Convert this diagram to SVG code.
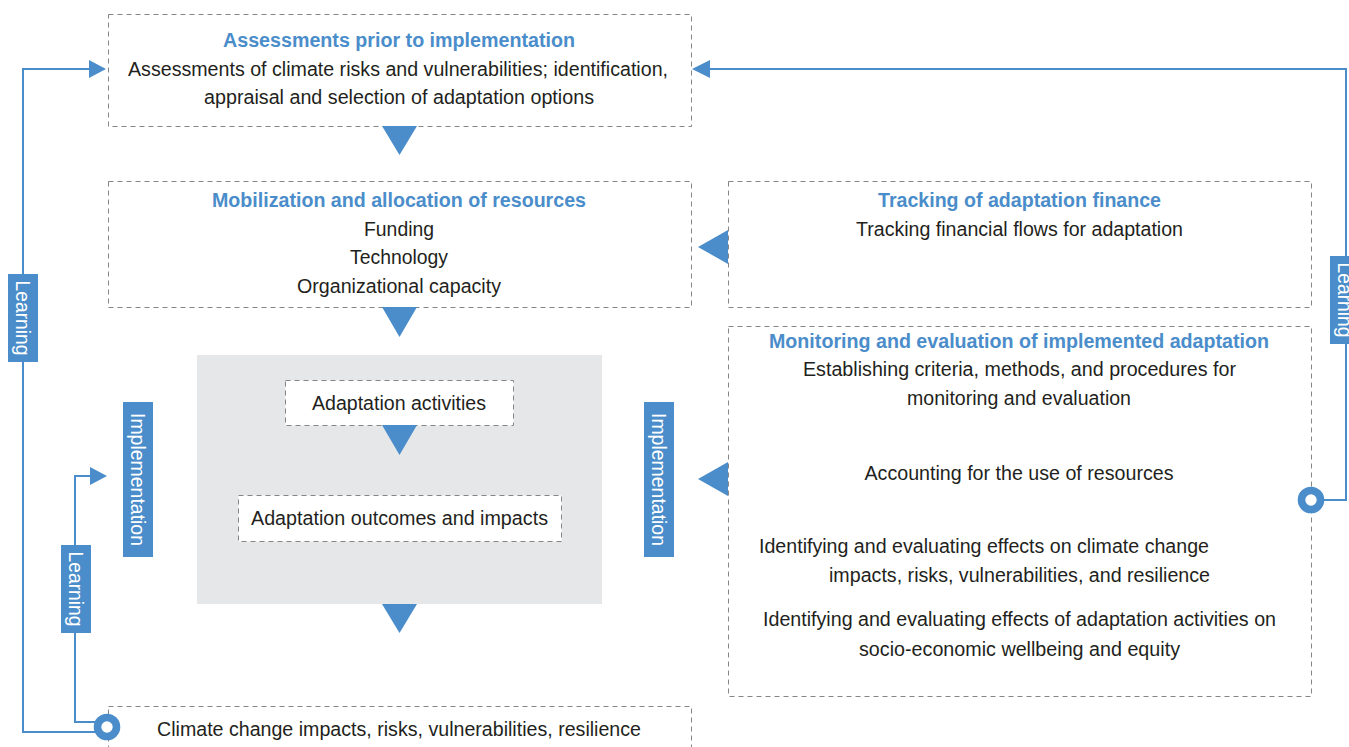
<svg xmlns="http://www.w3.org/2000/svg" width="1349" height="747" viewBox="0 0 1349 747">
<style>
.box{fill:#fff;stroke:#858585;stroke-width:1;stroke-dasharray:5 4}
.t{font-family:"Liberation Sans",Arial,sans-serif;font-size:20px;fill:#231f20;text-anchor:middle}
.h{font-family:"Liberation Sans",Arial,sans-serif;font-size:20px;font-weight:bold;fill:#4a8dca;text-anchor:middle}
.s{font-family:"Liberation Sans",Arial,sans-serif;font-size:20px;fill:#231f20}
.lbl{fill:#4a8dca}
.lt{font-family:"Liberation Sans",Arial,sans-serif;font-size:20px;fill:#fff;text-anchor:middle}
.tri{fill:#4a8dca}
.ln{fill:none;stroke:#4a8dca;stroke-width:2}
.ring{fill:#fff;stroke:#4a8dca;stroke-width:7.6}
</style>
<rect width="1349" height="747" fill="#fff"/>

<g id="implementation-area">
<rect x="197" y="355" width="405" height="249" fill="#e6e7e8"/>
</g>

<g id="assessments">
<rect class="box" x="108.5" y="14.5" width="583" height="112"/>
<text class="h" x="399" y="47" textLength="352" lengthAdjust="spacingAndGlyphs">Assessments prior to implementation</text>
<text class="t" x="398" y="76" textLength="540" lengthAdjust="spacingAndGlyphs">Assessments of climate risks and vulnerabilities; identification,</text>
<text class="t" x="399" y="104" textLength="390" lengthAdjust="spacingAndGlyphs">appraisal and selection of adaptation options</text>
</g>

<g id="mobilization">
<rect class="box" x="108.5" y="181.5" width="583" height="126"/>
<text class="h" x="399" y="207" textLength="374" lengthAdjust="spacingAndGlyphs">Mobilization and allocation of resources</text>
<text class="t" x="399" y="236" textLength="70" lengthAdjust="spacingAndGlyphs">Funding</text>
<text class="t" x="399" y="264" textLength="98" lengthAdjust="spacingAndGlyphs">Technology</text>
<text class="t" x="399" y="293" textLength="204" lengthAdjust="spacingAndGlyphs">Organizational capacity</text>
</g>

<g id="tracking">
<rect class="box" x="728.5" y="181.5" width="583" height="126"/>
<text class="h" x="1019.5" y="207" textLength="283" lengthAdjust="spacingAndGlyphs">Tracking of adaptation finance</text>
<text class="t" x="1019.5" y="236" textLength="327" lengthAdjust="spacingAndGlyphs">Tracking financial flows for adaptation</text>
</g>

<g id="monitoring">
<rect class="box" x="728.5" y="326.5" width="583" height="370"/>
<text class="h" x="1019" y="348" textLength="500" lengthAdjust="spacingAndGlyphs">Monitoring and evaluation of implemented adaptation</text>
<text class="t" x="1019.5" y="376" textLength="433" lengthAdjust="spacingAndGlyphs">Establishing criteria, methods, and procedures for</text>
<text class="t" x="1019" y="405" textLength="224" lengthAdjust="spacingAndGlyphs">monitoring and evaluation</text>
<text class="t" x="1019" y="480" textLength="309" lengthAdjust="spacingAndGlyphs">Accounting for the use of resources</text>
<text class="s" x="759" y="553" textLength="450" lengthAdjust="spacingAndGlyphs">Identifying and evaluating effects on climate change</text>
<text class="s" x="829" y="582" textLength="381" lengthAdjust="spacingAndGlyphs">impacts, risks, vulnerabilities, and resilience</text>
<text class="t" x="1019.5" y="626" textLength="513" lengthAdjust="spacingAndGlyphs">Identifying and evaluating effects of adaptation activities on</text>
<text class="t" x="1019.5" y="656" textLength="321" lengthAdjust="spacingAndGlyphs">socio-economic wellbeing and equity</text>
</g>

<g id="activities">
<rect class="box" x="285.5" y="380.5" width="228" height="45"/>
<text class="t" x="399" y="410" textLength="174" lengthAdjust="spacingAndGlyphs">Adaptation activities</text>
</g>

<g id="outcomes">
<rect class="box" x="238.5" y="495.5" width="323" height="46"/>
<text class="t" x="399.5" y="525" textLength="297" lengthAdjust="spacingAndGlyphs">Adaptation outcomes and impacts</text>
</g>

<g id="climate">
<rect class="box" x="108.5" y="706.5" width="583" height="60"/>
<text class="t" x="399" y="736" textLength="484" lengthAdjust="spacingAndGlyphs">Climate change impacts, risks, vulnerabilities, resilience</text>
</g>

<g id="connectors">
<polygon class="tri" points="382,126 417,126 399.5,155"/>
<polygon class="tri" points="382,307 417,307 399.5,337"/>
<polygon class="tri" points="382,425 417,425 399.5,455"/>
<polygon class="tri" points="382,604 417,604 399.5,633"/>
<polygon class="tri" points="728,230 728,264 698,247"/>
<polygon class="tri" points="728,462 728,496 698,479"/>

<path class="ln" d="M100,732 H23 V69 H92"/>
<polygon class="tri" points="89,60 106,69 89,78"/>
<path class="ln" d="M100,722 H75 V476 H92"/>
<polygon class="tri" points="90,467 107,476 90,485"/>
<path class="ln" d="M1318,500 H1346 V69 H708"/>
<polygon class="tri" points="710,60 692,69 710,78"/>

<circle class="ring" cx="107" cy="727" r="9.5"/>
<circle class="ring" cx="1311" cy="500" r="9.5"/>
</g>

<g id="label-learning-outer">
<rect class="lbl" x="8" y="274" width="30" height="88"/>
<text class="lt" transform="translate(23,318) rotate(90)" x="0" y="7" textLength="75" lengthAdjust="spacingAndGlyphs">Learning</text>
</g>
<g id="label-learning-inner">
<rect class="lbl" x="61" y="545" width="30" height="88"/>
<text class="lt" transform="translate(76,589) rotate(90)" x="0" y="7" textLength="75" lengthAdjust="spacingAndGlyphs">Learning</text>
</g>
<g id="label-learning-right">
<rect class="lbl" x="1330" y="256" width="30" height="88"/>
<text class="lt" transform="translate(1345,300) rotate(90)" x="0" y="7" textLength="75" lengthAdjust="spacingAndGlyphs">Learning</text>
</g>
<g id="label-implementation-left">
<rect class="lbl" x="123" y="402" width="30" height="155"/>
<text class="lt" transform="translate(138,479.5) rotate(90)" x="0" y="7" textLength="133" lengthAdjust="spacingAndGlyphs">Implementation</text>
</g>
<g id="label-implementation-right">
<rect class="lbl" x="644" y="402" width="30" height="155"/>
<text class="lt" transform="translate(659,479.5) rotate(90)" x="0" y="7" textLength="133" lengthAdjust="spacingAndGlyphs">Implementation</text>
</g>
</svg>
